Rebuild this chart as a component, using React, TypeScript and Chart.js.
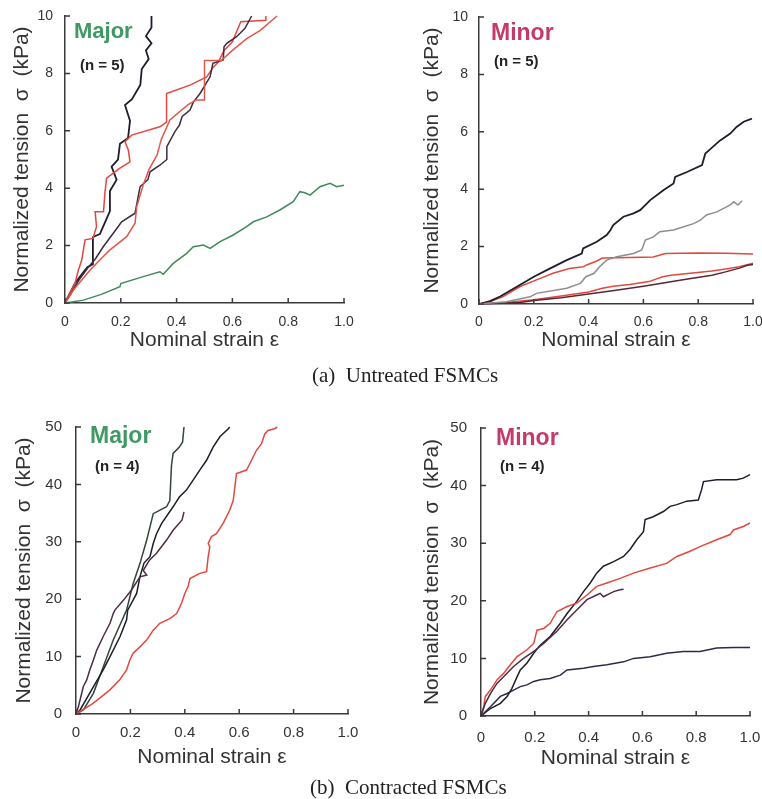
import React, { useEffect, useRef } from 'react';
import { Chart, registerables } from 'chart.js';

Chart.register(...registerables);

type Pt = [number, number];

// ---------- (a) Untreated, Major ----------
const tlBlackSteep: Pt[] = [[0,0],[0.018,0.35],[0.036,0.69],[0.06,1.0],[0.08,1.25],[0.10,1.35],[0.10,2.3],[0.125,2.4],[0.143,2.8],[0.161,3.2],[0.161,3.9],[0.185,4.3],[0.167,4.75],[0.19,5.0],[0.197,5.55],[0.226,5.75],[0.233,6.35],[0.215,6.9],[0.24,7.1],[0.27,7.6],[0.275,8.15],[0.30,8.5],[0.29,8.8],[0.31,9.05],[0.29,9.3],[0.31,9.6],[0.31,10]];
const tlRedSteep: Pt[] = [[0,0],[0.018,0.35],[0.036,0.69],[0.048,1.15],[0.06,1.5],[0.066,1.85],[0.072,2.2],[0.10,2.25],[0.113,2.66],[0.108,3.18],[0.138,3.18],[0.143,3.83],[0.149,4.35],[0.197,4.7],[0.233,4.92],[0.227,5.33],[0.215,5.62],[0.239,5.85],[0.34,6.14],[0.364,6.3],[0.364,7.3],[0.45,7.6],[0.508,7.88],[0.53,8.2],[0.55,8.4],[0.57,8.8],[0.60,9.1],[0.63,9.8],[0.72,9.85],[0.72,10]];
const tlBlackMid: Pt[] = [[0,0],[0.02,0.3],[0.05,0.8],[0.08,1.2],[0.11,1.55],[0.137,1.96],[0.173,2.43],[0.203,2.83],[0.251,3.13],[0.269,4.05],[0.297,4.3],[0.305,4.57],[0.34,4.8],[0.365,5.0],[0.365,5.45],[0.394,5.97],[0.41,6.2],[0.42,6.5],[0.448,6.72],[0.46,7.0],[0.484,7.3],[0.52,7.88],[0.53,8.35],[0.567,8.47],[0.57,8.93],[0.58,9.05],[0.615,9.28],[0.645,9.57],[0.669,10]];
const tlRedMid: Pt[] = [[0,0],[0.03,0.45],[0.06,0.8],[0.09,1.15],[0.125,1.5],[0.161,1.85],[0.221,2.31],[0.251,2.78],[0.257,3.36],[0.28,4.1],[0.30,4.63],[0.33,5.16],[0.345,5.7],[0.376,6.38],[0.44,6.9],[0.47,7.07],[0.50,7.07],[0.50,8.45],[0.56,8.45],[0.60,8.8],[0.65,9.2],[0.70,9.5],[0.76,10]];
const tlGreen: Pt[] = [[0,0],[0.066,0.1],[0.13,0.3],[0.197,0.57],[0.2,0.68],[0.28,0.92],[0.34,1.09],[0.352,1.0],[0.388,1.38],[0.436,1.73],[0.46,1.96],[0.496,2.02],[0.52,1.9],[0.556,2.14],[0.603,2.37],[0.651,2.66],[0.675,2.83],[0.723,3.0],[0.77,3.24],[0.818,3.53],[0.842,3.88],[0.86,3.84],[0.878,3.76],[0.914,4.05],[0.95,4.17],[0.974,4.05],[1.0,4.1]];

// ---------- (a) Untreated, Minor ----------
const trBlack: Pt[] = [[0,0],[0.04,0.1],[0.077,0.26],[0.138,0.6],[0.2,0.95],[0.26,1.24],[0.32,1.53],[0.375,1.76],[0.38,1.94],[0.43,2.17],[0.466,2.4],[0.48,2.58],[0.49,2.75],[0.527,3.04],[0.564,3.16],[0.588,3.27],[0.625,3.62],[0.674,3.97],[0.71,4.2],[0.716,4.43],[0.759,4.6],[0.814,4.84],[0.826,5.24],[0.84,5.36],[0.88,5.7],[0.917,5.94],[0.94,6.17],[0.966,6.35],[0.996,6.46]];
const trGray: Pt[] = [[0,0],[0.1,0.08],[0.186,0.25],[0.21,0.37],[0.32,0.55],[0.37,0.72],[0.39,0.95],[0.42,1.07],[0.44,1.3],[0.466,1.53],[0.503,1.65],[0.564,1.76],[0.594,1.88],[0.607,2.23],[0.637,2.34],[0.66,2.52],[0.71,2.58],[0.747,2.69],[0.783,2.8],[0.808,2.92],[0.83,3.1],[0.868,3.21],[0.893,3.33],[0.917,3.45],[0.93,3.56],[0.945,3.45],[0.96,3.6]];
const trRedFlat: Pt[] = [[0,0],[0.04,0.08],[0.088,0.26],[0.15,0.61],[0.21,0.84],[0.27,1.07],[0.33,1.24],[0.38,1.3],[0.395,1.37],[0.43,1.5],[0.45,1.6],[0.55,1.62],[0.636,1.64],[0.68,1.76],[0.8,1.78],[0.9,1.77],[1.0,1.74]];
const trRedLow: Pt[] = [[0,0],[0.1,0.05],[0.2,0.15],[0.3,0.28],[0.4,0.42],[0.45,0.55],[0.49,0.62],[0.55,0.68],[0.62,0.78],[0.67,0.95],[0.70,1.0],[0.78,1.08],[0.85,1.15],[0.9,1.22],[0.95,1.3],[1.0,1.42]];
const trDarkLow: Pt[] = [[0,0],[0.15,0.05],[0.2,0.12],[0.3,0.22],[0.4,0.35],[0.5,0.48],[0.6,0.62],[0.65,0.7],[0.75,0.85],[0.85,1.0],[0.9,1.12],[0.95,1.25],[0.98,1.35],[1.0,1.38]];

// ---------- (b) Contracted, Major ----------
const blOlive: Pt[] = [[0,0],[0.027,0.7],[0.064,3.6],[0.1,8.2],[0.137,12.9],[0.186,18.1],[0.21,22.7],[0.235,26.2],[0.26,30.3],[0.284,34.9],[0.333,36.1],[0.345,37.2],[0.351,43.3],[0.357,45.4],[0.38,46.5],[0.392,47.4],[0.397,50]];
const blBlack: Pt[] = [[0,0],[0.015,0.7],[0.05,3.6],[0.1,7.7],[0.125,10],[0.162,13.5],[0.186,16.4],[0.19,18.1],[0.223,21],[0.235,23.9],[0.25,26.3],[0.272,27.4],[0.284,29.7],[0.296,31.4],[0.315,33.2],[0.357,36.1],[0.38,37.8],[0.406,39],[0.43,40.7],[0.455,42.5],[0.48,44.2],[0.504,46.5],[0.529,48.3],[0.56,49.7],[0.565,50]];
const blPurple: Pt[] = [[0,0],[0.009,1.3],[0.027,4.8],[0.039,5.9],[0.051,7.7],[0.064,9.4],[0.076,11.1],[0.082,11.7],[0.1,13.5],[0.125,15.8],[0.137,17.5],[0.143,18.1],[0.174,19.8],[0.204,21.6],[0.235,23.9],[0.26,24.2],[0.247,25],[0.27,26.8],[0.296,28],[0.333,30.3],[0.357,32],[0.39,33.8],[0.397,35.2]];
const blRed: Pt[] = [[0,0],[0.064,1.9],[0.125,4.2],[0.16,5.9],[0.186,7.7],[0.198,9.4],[0.21,10.6],[0.235,11.7],[0.26,12.9],[0.284,14.6],[0.308,15.8],[0.345,16.6],[0.37,17.5],[0.388,19.3],[0.4,21],[0.412,22.2],[0.419,23.6],[0.455,24.5],[0.48,24.8],[0.486,27.4],[0.492,29.1],[0.486,29.7],[0.498,30.9],[0.516,31.4],[0.541,33.2],[0.565,35.5],[0.578,37.2],[0.59,41.9],[0.627,42.5],[0.639,43.6],[0.663,45.9],[0.682,47.1],[0.694,48.8],[0.706,49.4],[0.73,49.7],[0.74,50]];

// ---------- (b) Contracted, Minor ----------
const brBlack: Pt[] = [[0,0],[0.035,1.3],[0.072,2.2],[0.097,3.4],[0.115,4.8],[0.134,6.8],[0.146,8],[0.171,9.2],[0.196,10.9],[0.22,12.3],[0.257,13.8],[0.295,16.1],[0.32,17.8],[0.356,19.9],[0.381,21.6],[0.406,23.1],[0.43,24.8],[0.455,26],[0.493,26.8],[0.53,27.7],[0.554,28.9],[0.579,30.6],[0.604,32],[0.61,34.1],[0.64,34.6],[0.678,35.5],[0.703,36.4],[0.728,36.7],[0.765,37.3],[0.808,37.5],[0.82,39.3],[0.827,40.7],[0.876,41],[0.95,41],[0.975,41.3],[1.0,41.9]];
const brRed: Pt[] = [[0,0],[0.01,1.6],[0.016,3.4],[0.035,4.5],[0.06,6.3],[0.084,7.4],[0.109,8.9],[0.134,10.3],[0.171,11.5],[0.196,12.6],[0.208,14.9],[0.233,15.2],[0.257,16.1],[0.282,18.1],[0.32,19],[0.356,19.6],[0.394,21],[0.43,22.5],[0.468,23.1],[0.517,23.9],[0.567,24.8],[0.629,25.7],[0.69,26.5],[0.728,27.7],[0.777,28.6],[0.814,29.4],[0.876,30.6],[0.926,31.5],[0.938,32.3],[0.975,32.9],[1.0,33.5]];
const brPurple: Pt[] = [[0,0],[0.016,2.2],[0.035,3.9],[0.06,5.7],[0.084,6.8],[0.121,8.6],[0.158,10],[0.196,11.2],[0.233,12.6],[0.282,14.7],[0.32,16.7],[0.356,18.4],[0.394,20.2],[0.43,21],[0.443,21.3],[0.455,20.7],[0.493,21.6],[0.517,21.9],[0.53,22]];
const brNavy: Pt[] = [[0,0],[0.035,1.6],[0.072,3.4],[0.097,3.9],[0.121,4.5],[0.146,5.1],[0.171,5.4],[0.196,6],[0.22,6.3],[0.257,6.5],[0.295,7.1],[0.32,8],[0.381,8.3],[0.418,8.6],[0.468,8.9],[0.53,9.4],[0.567,10],[0.629,10.3],[0.69,10.9],[0.752,11.2],[0.814,11.2],[0.876,11.8],[0.938,11.9],[1.0,11.9]];

// ---------- axis settings ----------
const xMin = 0, xMax = 1, xStep = 0.2;
const yMaxTop = 10, yStepTop = 2;
const yMaxBottom = 50, yStepBottom = 10;
const xTitle = 'Nominal strain ε';
const yTitle = 'Normalized tension  σ  (kPa)';
const captionA = '(a)  Untreated FSMCs';
const captionB = '(b)  Contracted FSMCs';

const SANS = '"Liberation Sans", Arial, Helvetica, sans-serif';
const SERIF = '"Liberation Serif", "Times New Roman", serif';
const AXIS = '#3a3a3a';
const TEXT = '#333333';
const BLACK = '#1f1d2a';
const DARK = '#3d2b40';
const RED = '#e2483f';
const RED2 = '#e0574b';
const GREENLINE = '#3f8a5b';
const GRAY = '#8e8e8e';
const OLIVE = '#34443a';
const PURPLE = '#4e2c46';
const NAVY = '#2c2b48';
const GREEN_TXT = '#3e9a63';
const PINK_TXT = '#c63a6b';

const inwardTicks = {
  id: 'inwardTicks',
  afterDraw(chart: any) {
    const ctx = chart.ctx;
    const xs = chart.scales.x;
    const ys = chart.scales.y;
    const a = chart.chartArea;
    ctx.save();
    ctx.strokeStyle = AXIS;
    ctx.lineWidth = 1.5;
    ctx.beginPath();
    xs.ticks.forEach((t: any) => {
      const px = xs.getPixelForValue(t.value);
      ctx.moveTo(px, a.bottom);
      ctx.lineTo(px, a.bottom - 5);
    });
    ys.ticks.forEach((t: any) => {
      const py = ys.getPixelForValue(t.value);
      ctx.moveTo(a.left, py);
      ctx.lineTo(a.left + 5, py);
    });
    ctx.stroke();
    ctx.restore();
  },
};

interface Series { data: Pt[]; color: string; width?: number }
interface PanelProps {
  left: number; top: number; width: number; height: number;
  pad: { left: number; top: number; right: number; bottom: number };
  yWidth: number; xHeight: number;
  yMax: number; yStep: number;
  tickSize: number; yTickPad: number; xTickPad: number;
  yTitlePad: number; xTitlePad: number;
  series: Series[];
}

function Panel(p: PanelProps) {
  const ref = useRef<HTMLCanvasElement | null>(null);
  useEffect(() => {
    if (!ref.current) return;
    const chart = new Chart(ref.current, {
      type: 'line',
      data: {
        datasets: p.series.map((s) => ({
          data: s.data.map(([x, y]) => ({ x, y })),
          borderColor: s.color,
          borderWidth: s.width ?? 1.5,
          pointRadius: 0,
          fill: false,
          tension: 0,
          clip: 4,
        })),
      },
      options: {
        responsive: false,
        animation: false,
        devicePixelRatio: 1,
        layout: { padding: p.pad },
        plugins: { legend: { display: false }, tooltip: { enabled: false } },
        scales: {
          x: {
            type: 'linear',
            min: xMin,
            max: xMax,
            ticks: {
              stepSize: xStep,
              autoSkip: false,
              maxRotation: 0,
              padding: p.xTickPad,
              color: TEXT,
              font: { family: SANS, size: p.tickSize },
              callback: (v: any) => (Math.abs(Number(v)) < 1e-9 ? '0' : Number(v).toFixed(1)),
            },
            grid: { display: true, drawOnChartArea: false, drawTicks: false },
            border: { display: true, color: AXIS, width: 1.5 },
            title: {
              display: true,
              text: xTitle,
              color: TEXT,
              font: { family: SANS, size: 21 },
              padding: { top: 0, bottom: p.xTitlePad },
            },
            afterFit: (s: any) => {
              s.height = p.xHeight;
              s.paddingLeft = 0;
              s.paddingRight = 0;
            },
          },
          y: {
            type: 'linear',
            min: 0,
            max: p.yMax,
            ticks: {
              stepSize: p.yStep,
              padding: p.yTickPad,
              color: TEXT,
              font: { family: SANS, size: p.tickSize },
              callback: (v: any) => String(Math.round(Number(v))),
            },
            grid: { display: true, drawOnChartArea: false, drawTicks: false },
            border: { display: true, color: AXIS, width: 1.5 },
            title: {
              display: true,
              text: yTitle,
              color: TEXT,
              font: { family: SANS, size: 21 },
              padding: { top: p.yTitlePad, bottom: 0 },
            },
            afterFit: (s: any) => {
              s.width = p.yWidth;
              s.paddingTop = 0;
              s.paddingBottom = 0;
            },
          },
        },
      },
      plugins: [inwardTicks],
    } as any);
    return () => chart.destroy();
  }, []);
  return (
    <canvas
      ref={ref}
      width={p.width}
      height={p.height}
      style={{ position: 'absolute', left: p.left, top: p.top, width: p.width, height: p.height }}
    />
  );
}

function Label(props: { text: string; left: number; top: number; size: number; color: string; bold?: boolean; font?: string }) {
  return (
    <div
      style={{
        position: 'absolute',
        left: props.left,
        top: props.top,
        fontFamily: props.font ?? SANS,
        fontSize: props.size,
        fontWeight: props.bold ? 700 : 400,
        color: props.color,
        lineHeight: 1,
        whiteSpace: 'pre',
      }}
    >
      {props.text}
    </div>
  );
}

export default function App() {
  return (
    <div style={{ position: 'absolute', left: 0, top: 0, width: 762, height: 799, background: '#fff', overflow: 'hidden' }}>
      <Panel
        left={0} top={0} width={380} height={365}
        pad={{ left: 0, top: 16, right: 36, bottom: 7 }}
        yWidth={65} xHeight={55}
        yMax={yMaxTop} yStep={yStepTop}
        tickSize={14} yTickPad={12} xTickPad={10.6}
        yTitlePad={9.4} xTitlePad={5.4}
        series={[
          { data: tlGreen, color: GREENLINE },
          { data: tlRedMid, color: RED2 },
          { data: tlBlackMid, color: DARK },
          { data: tlRedSteep, color: RED },
          { data: tlBlackSteep, color: BLACK, width: 1.8 },
        ]}
      />
      <Panel
        left={400} top={0} width={362} height={365}
        pad={{ left: 0, top: 17, right: 9, bottom: 6 }}
        yWidth={79} xHeight={55}
        yMax={yMaxTop} yStep={yStepTop}
        tickSize={14} yTickPad={11} xTickPad={9.6}
        yTitlePad={19.4} xTitlePad={6.4}
        series={[
          { data: trGray, color: GRAY },
          { data: trDarkLow, color: '#5a2535' },
          { data: trRedLow, color: RED },
          { data: trBlack, color: BLACK, width: 1.8 },
          { data: trRedFlat, color: RED },
        ]}
      />
      <Panel
        left={0} top={410} width={390} height={370}
        pad={{ left: 0, top: 17, right: 42, bottom: 6 }}
        yWidth={76} xHeight={60}
        yMax={yMaxBottom} yStep={yStepBottom}
        tickSize={15} yTickPad={14} xTickPad={10}
        yTitlePad={11.4} xTitlePad={4.4}
        series={[
          { data: blRed, color: RED },
          { data: blPurple, color: PURPLE },
          { data: blBlack, color: BLACK },
          { data: blOlive, color: OLIVE },
        ]}
      />
      <Panel
        left={400} top={410} width={362} height={370}
        pad={{ left: 0, top: 18, right: 12, bottom: 4 }}
        yWidth={81} xHeight={60}
        yMax={yMaxBottom} yStep={yStepBottom}
        tickSize={15} yTickPad={14} xTickPad={13}
        yTitlePad={19.4} xTitlePad={5.4}
        series={[
          { data: brNavy, color: NAVY },
          { data: brPurple, color: PURPLE },
          { data: brRed, color: RED },
          { data: brBlack, color: BLACK },
        ]}
      />

      <Label text="Major" left={74} top={20.4} size={22} color={GREEN_TXT} bold />
      <Label text="(n = 5)" left={80} top={56.5} size={15} color="#222" bold />
      <Label text="Minor" left={491} top={20.5} size={23} color={PINK_TXT} bold />
      <Label text="(n = 5)" left={494} top={52.5} size={15} color="#222" bold />
      <Label text="Major" left={90} top={423.5} size={23} color={GREEN_TXT} bold />
      <Label text="(n = 4)" left={95} top={457.5} size={15} color="#222" bold />
      <Label text="Minor" left={496} top={425.5} size={23} color={PINK_TXT} bold />
      <Label text="(n = 4)" left={500} top={457.5} size={15} color="#222" bold />

      <Label text={captionA} left={312} top={365} size={21} color="#222" font={SERIF} />
      <Label text={captionB} left={310} top={777} size={21} color="#222" font={SERIF} />
    </div>
  );
}
